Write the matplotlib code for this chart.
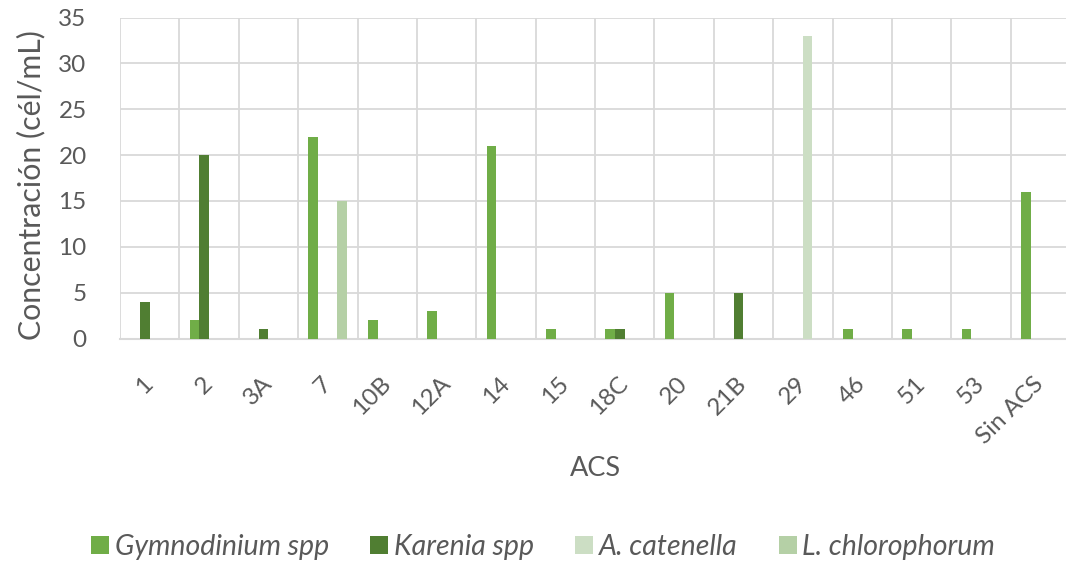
import numpy as np
import matplotlib
matplotlib.use("Agg")
import matplotlib.pyplot as plt
from matplotlib.transforms import ScaledTranslation
from matplotlib.patches import Patch

# Sampling stations (ACS) and cell concentrations per taxon (cél/mL)
stations = ["1", "2", "3A", "7", "10B", "12A", "14", "15", "18C", "20",
            "21B", "29", "46", "51", "53", "Sin ACS"]
gymnodinium = [0, 2, 0, 22, 2, 3, 21, 1, 1, 5, 0, 0, 1, 1, 1, 16]
karenia = [4, 20, 1, 0, 0, 0, 0, 0, 1, 0, 5, 0, 0, 0, 0, 0]
catenella = [0, 0, 0, 0, 0, 0, 0, 0, 0, 0, 0, 33, 0, 0, 0, 0]
chlorophorum = [0, 0, 0, 15, 0, 0, 0, 0, 0, 0, 0, 0, 0, 0, 0, 0]

series_names = ["Gymnodinium spp", "Karenia spp", "A. catenella", "L. chlorophorum"]
series_values = [gymnodinium, karenia, catenella, chlorophorum]
colors = ["#70AD47", "#507E32", "#CCDEC4", "#B5D0A6"]

FONT = "Lato"
TEXT = "#595959"
GRID = "#D9D9D9"

fig = plt.figure(figsize=(10.66, 5.63), dpi=100)
ax = fig.add_axes([120 / 1066, 1 - 338.5 / 563, 950 / 1066, 321 / 563])

x = np.arange(len(stations))
bw = 0.163
for i, (name, vals, c) in enumerate(zip(series_names, series_values, colors)):
    ax.bar(x + (i - 1.5) * bw, vals, width=bw, color=c, label=name, zorder=3)

ax.set_xlim(-0.5, len(stations) - 0.5)
ax.set_ylim(0, 35)
ax.set_yticks(np.arange(0, 36, 5))

# category separators as vertical gridlines
ax.set_xticks(np.arange(-0.5, len(stations), 1.0), minor=True)
ax.set_xticks(x)
ax.set_xticklabels(stations, rotation=45, ha="right", va="center",
                   rotation_mode="anchor", fontfamily=FONT, fontsize=17.5, color=TEXT)
for lab in ax.get_xticklabels():
    lab.set_transform(lab.get_transform() + ScaledTranslation(12 / 100, 0, fig.dpi_scale_trans))

ax.grid(True, which="minor", axis="x", color=GRID, linewidth=1.3, zorder=0)
ax.grid(True, which="major", axis="y", color=GRID, linewidth=1.3, zorder=0)
ax.tick_params(axis="x", which="both", length=0, pad=30)
ax.tick_params(axis="y", length=0, pad=24, labelsize=17.5, labelcolor=TEXT)
for lab in ax.get_yticklabels():
    lab.set_fontfamily(FONT)

for s in ["top", "right", "left"]:
    ax.spines[s].set_visible(False)
ax.spines["bottom"].set_color(GRID)
ax.spines["bottom"].set_linewidth(1.5)

fig.text(31 / 1066, 1 - 185.5 / 563, "Concentración (cél/mL)", rotation=90,
         ha="center", va="center", fontfamily=FONT, fontsize=21.8, color=TEXT)
fig.text(595 / 1066, 1 - 469 / 563, "ACS", ha="center", va="center",
         fontfamily=FONT, fontsize=19.5, color=TEXT)

handles = [Patch(facecolor=c, edgecolor="none") for c in colors]
leg = fig.legend(handles, series_names, loc="center", bbox_to_anchor=(543 / 1066, 1 - 547 / 563),
                 ncol=4, frameon=False, handlelength=0.63, handleheight=0.63,
                 handletextpad=0.2, columnspacing=1.45,
                 prop={"family": FONT, "style": "italic", "size": 20.5})
for t in leg.get_texts():
    t.set_color(TEXT)

fig.savefig("out.png", dpi=100)
